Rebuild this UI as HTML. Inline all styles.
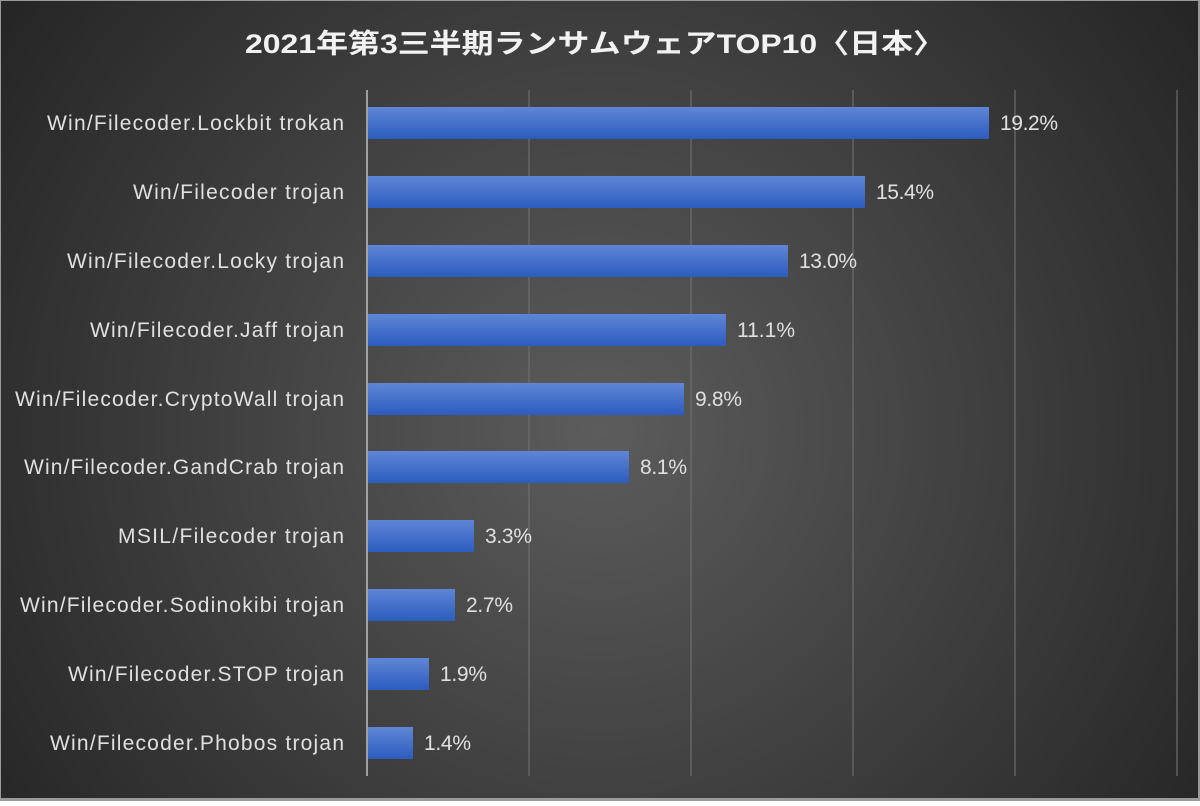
<!DOCTYPE html>
<html><head><meta charset="utf-8"><style>
html,body{margin:0;padding:0;background:#fff}
body{width:1200px;height:801px;overflow:hidden}
</style></head><body>
<svg width="1200" height="801" xmlns="http://www.w3.org/2000/svg" font-family="Liberation Sans, Noto Sans CJK JP, sans-serif">
<defs>
<radialGradient id="bg" cx="600" cy="430" r="720" gradientUnits="userSpaceOnUse">
<stop offset="0" stop-color="#5c5c5c"/><stop offset="1" stop-color="#262626"/>
</radialGradient>
<linearGradient id="bar" x1="0" y1="0" x2="0" y2="1">
<stop offset="0" stop-color="#5f86d6"/><stop offset="1" stop-color="#2c5cbf"/>
</linearGradient>
</defs>
<rect x="0" y="0" width="1200" height="801" fill="#9a9a9a"/>
<rect x="1" y="1" width="1197" height="797" fill="url(#bg)"/>
<text x="245" y="53" fill="#f2f2f2" font-size="27" font-weight="bold" textLength="700" lengthAdjust="spacingAndGlyphs">2021年第3三半期ランサムウェアTOP10〈日本〉</text>
<g stroke="#6e6e6e" stroke-width="1.2">
<line x1="529" y1="90" x2="529" y2="776"/><line x1="691" y1="90" x2="691" y2="776"/>
<line x1="853" y1="90" x2="853" y2="776"/><line x1="1015" y1="90" x2="1015" y2="776"/>
<line x1="1177" y1="90" x2="1177" y2="776"/>
</g>
<line x1="367" y1="90" x2="367" y2="776" stroke="#bfbfbf" stroke-width="1.5"/>
<g font-size="21" fill="#e0e0e0" lengthAdjust="spacingAndGlyphs">
<rect x="368" y="107" width="621" height="32" fill="url(#bar)"/><text x="47" y="130" textLength="297">Win/Filecoder.Lockbit trokan</text><text x="1000" y="130" textLength="58">19.2%</text>
<rect x="368" y="176" width="497" height="32" fill="url(#bar)"/><text x="133" y="199" textLength="211">Win/Filecoder trojan</text><text x="876" y="199" textLength="58">15.4%</text>
<rect x="368" y="245" width="420" height="32" fill="url(#bar)"/><text x="67" y="268" textLength="277">Win/Filecoder.Locky trojan</text><text x="799" y="268" textLength="58">13.0%</text>
<rect x="368" y="314" width="358" height="32" fill="url(#bar)"/><text x="90" y="337" textLength="254">Win/Filecoder.Jaff trojan</text><text x="737" y="337" textLength="58">11.1%</text>
<rect x="368" y="383" width="316" height="32" fill="url(#bar)"/><text x="15" y="406" textLength="329">Win/Filecoder.CryptoWall trojan</text><text x="695" y="406" textLength="47">9.8%</text>
<rect x="368" y="451" width="261" height="32" fill="url(#bar)"/><text x="24" y="474" textLength="320">Win/Filecoder.GandCrab trojan</text><text x="640" y="474" textLength="47">8.1%</text>
<rect x="368" y="520" width="106" height="32" fill="url(#bar)"/><text x="118" y="543" textLength="226">MSIL/Filecoder trojan</text><text x="485" y="543" textLength="47">3.3%</text>
<rect x="368" y="589" width="87" height="32" fill="url(#bar)"/><text x="20" y="612" textLength="324">Win/Filecoder.Sodinokibi trojan</text><text x="466" y="612" textLength="47">2.7%</text>
<rect x="368" y="658" width="61" height="32" fill="url(#bar)"/><text x="68" y="681" textLength="276">Win/Filecoder.STOP trojan</text><text x="440" y="681" textLength="47">1.9%</text>
<rect x="368" y="727" width="45" height="32" fill="url(#bar)"/><text x="50" y="750" textLength="294">Win/Filecoder.Phobos trojan</text><text x="424" y="750" textLength="47">1.4%</text>
</g>
</svg>
</body></html>
